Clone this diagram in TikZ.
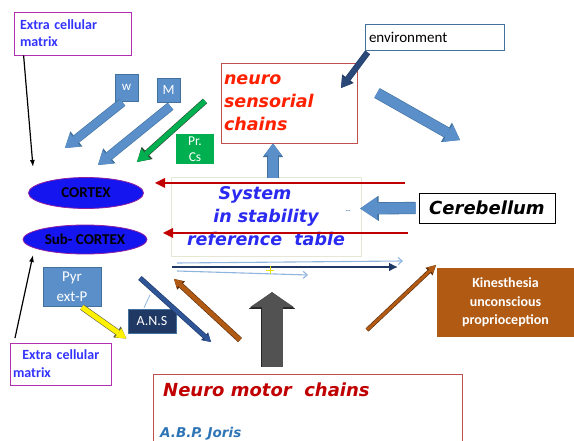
\documentclass[tikz,border=0pt]{standalone}
\usepackage{fontspec}
\setmainfont{Carlito}
\newfontfamily\verd{DejaVu Sans}
\usetikzlibrary{arrows.meta,positioning,shapes.geometric,calc}

\definecolor{steel}{HTML}{5B8FCA}
\definecolor{steeldark}{HTML}{41719C}
\definecolor{grn}{HTML}{00B050}
\definecolor{grndark}{HTML}{2A4A30}
\definecolor{navy}{HTML}{1F3864}
\definecolor{deepblue}{HTML}{2F5597}
\definecolor{darkred}{HTML}{C00000}
\definecolor{boxred}{HTML}{C0504D}
\definecolor{hotred}{HTML}{FF2000}
\definecolor{purp}{HTML}{B030B0}
\definecolor{ecmblue}{HTML}{3333FF}
\definecolor{lobeblue}{HTML}{1515F0}
\definecolor{lobeedge}{HTML}{9020A0}
\definecolor{sysblue}{HTML}{2A2AF0}
\definecolor{joris}{HTML}{2E75B6}
\definecolor{brown}{HTML}{B05A14}
\definecolor{browndark}{HTML}{5A2A08}
\definecolor{lightline}{HTML}{8FB4DE}
\definecolor{tablegray}{HTML}{E6E6D4}

\begin{document}
\begin{tikzpicture} [
        x = 1pt, y = -1pt,
        box/.style = { draw, rectangle, inner sep = 4pt },
        tag/.style = { rectangle, text = white, inner sep = 0, align = center },
        lobe/.style = { ellipse, draw = lobeedge, fill = lobeblue, line width = 0.8pt, inner sep = 0,
            font = \bfseries\fontsize{15}{17}\selectfont },
        fat/.style n args = {5}{ preaction = { draw = #5, line width = #1+1.2pt,
            -{Triangle[length = #3+1.6pt, width = #2+2.4pt, line width = 0pt]} },
            draw = #4, line width = #1, -{Triangle[length = #3, width = #2, line width = 0pt]} },
        thin/.style = { line width = 1.2pt, -{Latex[length = 7pt, width = 5pt]} },
        redline/.style = { draw = darkred, line width = 2.6pt,
            -{Triangle[length = 10pt, width = 10pt, line width = 0pt]} },
        faint/.style = { draw = lightline, line width = 1.1pt, -{Straight Barb[length = 4pt, width = 7pt]} }
        ]

    \useasboundingbox (0,0) rectangle (574,441);
    \clip (0,0) rectangle (574,441);

    % boxes
    \node [box, draw = purp, line width = 0.8pt, minimum width = 115, minimum height = 43, text width = 105,
        inner xsep = 6pt, align = left, text = ecmblue, font = \bfseries\fontsize{14}{17}\selectfont]
        (ecmtop) at (72.5,33.5) {Extra cellular\\matrix};
    \node [tag, fill = steel, draw = steeldark, minimum width = 23, minimum height = 27,
        font = \fontsize{13}{14}\selectfont] (w) at (126.5,87.5) {w};
    \node [tag, fill = steel, draw = steeldark, minimum width = 23, minimum height = 24,
        font = \fontsize{14}{14}\selectfont] (m) at (168.5,90) {M};
    \node [tag, fill = grn, minimum width = 38, minimum height = 30,
        font = \fontsize{13.5}{16}\selectfont] (prcs) at (195,149) {Pr.\\Cs};
    \node [box, draw = boxred, line width = 0.9pt, minimum width = 136, minimum height = 80, text width = 130,
        inner xsep = 3pt, align = left, text = hotred, font = \verd\bfseries\itshape\fontsize{17.5}{23}\selectfont]
        (nsc) at (289,103) {neuro\\sensorial\\chains};
    \node [box, draw = steeldark, line width = 0.8pt, minimum width = 139, minimum height = 26, text width = 131,
        align = left, font = \fontsize{15}{16}\selectfont] (env) at (434.5,37) {environment};
    \node [box, draw = tablegray, minimum width = 190, minimum height = 79, align = center,
        text = sysblue, font = \verd\bfseries\itshape\fontsize{17.5}{23}\selectfont]
        (table) at (266,216.5) {System\hspace*{22pt}\\in stability\\reference\ \ table};
    \node [text = deepblue, font = \fontsize{8}{9}\selectfont] (dash) at (348,212) {-{}-};
    \node [box, line width = 0.9pt, minimum width = 136, minimum height = 30,
        font = \verd\bfseries\itshape\fontsize{18}{20}\selectfont] (cereb) at (487,208) {Cerebellum};
    \node [lobe, minimum width = 115, minimum height = 31] (cortex) at (86,193) {CORTEX};
    \node [lobe, minimum width = 124, minimum height = 29] (subcortex) at (85,239.5) {Sub- CORTEX};
    \node [tag, fill = steel, draw = steeldark, minimum width = 58, minimum height = 39,
        font = \fontsize{15}{20}\selectfont] (pyr) at (72,286.5) {Pyr\\ext-P};
    \node [box, draw = purp, line width = 0.8pt, minimum width = 101, minimum height = 42, text width = 95,
        inner xsep = 3pt, align = left, text = ecmblue, font = \bfseries\fontsize{14}{18}\selectfont]
        (ecmbot) at (60.5,364) {\ \ Extra cellular\\matrix};
    \node [tag, fill = navy, draw = steeldark, minimum width = 48, minimum height = 24,
        font = \fontsize{14}{15}\selectfont] (ans) at (152,321) {A.N.S};
    \node [tag, fill = brown, minimum width = 137, minimum height = 69,
        font = \bfseries\fontsize{14}{18.5}\selectfont] (kin) at (505.5,302.5)
        {Kinesthesia\\unconscious\\proprioception};
    \node [box, draw = boxred, line width = 0.9pt, minimum width = 309, minimum height = 90] (nm) at (307.5,419) {};
    \node [anchor = base west, inner sep = 0, text = darkred,
        font = \verd\bfseries\itshape\fontsize{18}{20}\selectfont] (nmtitle) at (163,396) {Neuro motor\ \ chains};
    \node [anchor = base west, inner sep = 0, text = joris,
        font = \verd\bfseries\itshape\fontsize{13.5}{15}\selectfont] (author) at (160,437) {A.B.P. Joris};

    % free ends
    \coordinate (cortexin) at (33,167);
    \coordinate (subin) at (33,255);
    \coordinate (ecmfoot) at (15,338);
    \coordinate (wend) at (65,148);
    \coordinate (mend) at (98,165);
    \coordinate (gtail) at (205,101);
    \coordinate (gend) at (137,162);
    \coordinate (envend) at (341,88);
    \coordinate (nstail) at (377,93);
    \coordinate (nsend) at (460,140);
    \coordinate (redA) at (405,183);
    \coordinate (redB) at (155,183);
    \coordinate (redC) at (408,233);
    \coordinate (redD) at (163,233);
    \coordinate (anstail) at (140,278);
    \coordinate (ansend) at (211,342);
    \coordinate (ansnote) at (150,295);
    \coordinate (bwtail) at (240,340);
    \coordinate (bwend) at (174,279);
    \coordinate (flowA) at (172,267);
    \coordinate (flowB) at (398,267);
    \coordinate (faintA) at (177,263);
    \coordinate (faintB) at (403,261);
    \coordinate (faintC) at (177,271);
    \coordinate (faintD) at (308,275);
    \coordinate (betail) at (367,330);
    \coordinate (beend) at (436,265);

    % connectors
    \draw [thin] ($(ecmtop.south west)+(10,0)$) -- (cortexin);
    \draw [thin] (ecmfoot) -- (subin);
    \draw [fat = {8pt}{17pt}{13pt}{steel}{steeldark}] ($(w.south)+(-4,1)$) -- (wend);
    \draw [fat = {8pt}{17pt}{13pt}{steel}{steeldark}] ($(m.south)+(2,4)$) -- (mend);
    \draw [fat = {5pt}{14pt}{12pt}{grn}{grndark}] (gtail) -- (gend);
    \draw [fat = {5pt}{12pt}{10pt}{navy!80!steel}{navy}] ($(env.south west)+(3,2)$) -- (envend);
    \draw [fat = {10pt}{20pt}{14pt}{steel}{steeldark}] (nstail) -- (nsend);
    \draw [fat = {10pt}{18pt}{12pt}{steel}{steeldark}] ($(table.north)+(7,1)$) -- ($(nsc.south)+(-16,0)$);
    \draw [fat = {11pt}{23pt}{17pt}{steel}{steeldark}] ($(cereb.west)+(-3,0)$) -- ($(table.east)+(-1,-8)$);
    \draw [redline] (redA) -- (redB);
    \draw [redline] (redC) -- (redD);
    \draw [fat = {5pt}{11pt}{10pt}{yellow}{black!70!yellow}] ($(pyr.south)+(10,1)$) -- ($(ecmbot.north east)+(15,-4)$);
    \draw [draw = lightline, line width = 0.8pt] ($(ans.north)+(-8,-1)$) -- (ansnote);
    \draw [fat = {4pt}{8pt}{7pt}{deepblue}{navy}] (anstail) -- (ansend);
    \draw [fat = {4.5pt}{9pt}{8pt}{brown}{browndark}] (bwtail) -- (bwend);
    \draw [fat = {21pt}{44pt}{15pt}{black!68}{black!85}] ($(nm.north)+(-35.5,-7)$) -- ($(table.south)+(6,36)$);
    \draw [faint] (faintA) -- (faintB);
    \draw [navy, line width = 2.4pt, -{Latex[length = 9pt, width = 9pt]}] (flowA) -- (flowB);
    \draw [faint] (faintC) -- (faintD);
    \draw [yellow!90!black, line width = 0.7pt] (266,270) -- (274,270) (270,266) -- (270,274);
    \draw [fat = {3pt}{8pt}{8pt}{brown}{browndark}] (betail) -- (beend);
\end{tikzpicture}
\end{document}
